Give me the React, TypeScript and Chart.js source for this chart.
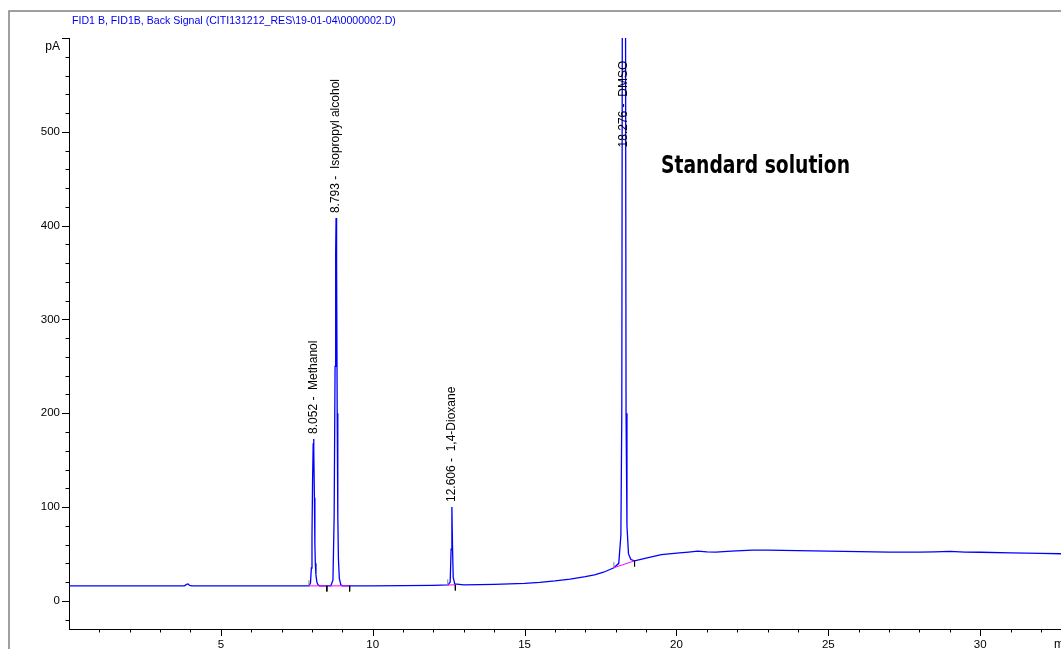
import { useEffect, useRef } from "react";
import { Chart, registerables } from "chart.js";
Chart.register(...registerables);

// ---- data ----
const titleText = "FID1 B, FID1B, Back Signal (CITI131212_RES\\19-01-04\\0000002.D)";
const overlayText = "Standard solution";
const yUnit = "pA";
const xUnit = "min";

const times = [
  0, 3.8, 3.87, 3.92, 3.97, 4.05, 6.0, 7.5, 7.9, 7.95, 7.98, 8.0, 8.02, 8.04, 8.052, 8.065, 8.08, 8.095, 8.11, 8.13, 8.16, 8.2, 8.25,
  8.5, 8.62, 8.69, 8.73, 8.76, 8.78, 8.793, 8.81, 8.83, 8.85, 8.87, 8.9, 8.95, 9.0, 10.0, 11.0, 12.0, 12.48, 12.55, 12.58,
  12.606, 12.625, 12.65, 12.7, 13.0, 13.5, 14.0, 14.5, 15.0, 15.5, 16.0, 16.5, 17.0, 17.3, 17.6, 17.94, 18.1, 18.17,
  18.2, 18.22, 18.276, 18.32, 18.34, 18.37, 18.42, 18.5, 18.62, 19.0, 19.5, 20.1, 20.4, 20.7, 21.0, 21.3, 21.8,
  22.5, 23.0, 24.0, 25.0, 26.0, 27.0, 28.0, 28.5, 29.0, 29.5, 30.0, 31.0, 32.0, 32.66,
];
const signal = [
  16, 16, 17.5, 18, 16.5, 16, 16, 16, 16, 19, 35, 70, 130, 168, 172.6, 160, 110, 60, 40, 28, 20, 17, 16,
  16, 16, 22, 90, 250, 370, 408, 360, 200, 90, 45, 24, 17, 16, 16, 16.3, 16.6, 17, 20, 55,
  100, 60, 25, 18, 17, 17.2, 17.6, 18, 18.7, 19.8, 21.3, 23.2, 25.8, 27.8, 30.5, 35.3, 40, 70,
  200, 700, 2000, 700, 200, 80, 50, 44, 42.7, 45.5, 49.3, 51.1, 52, 53, 52.3, 52, 53,
  54, 54, 53.5, 53, 52.5, 52, 52, 52.3, 52.7, 52, 51.8, 51.2, 50.6, 50.2,
];

// integration baselines (start/end time and signal)
const baseStartT = [7.9, 8.6, 12.47, 17.94];
const baseStartY = [16, 16, 16.9, 35.3];
const baseEndT = [8.49, 9.24, 12.72, 18.62];
const baseEndY = [16, 16, 17.1, 42.7];

// peak labels
const peakTimes = [8.052, 8.793, 12.606, 18.276];
const peakNames = ["Methanol", "Isopropyl alcohol", "1,4-Dioxane", "DMSO"];
const peakLabelY = [172.6, 408, 100, 478];

const yMin = -30;
const yMax = 600;
const xMin = 0;
const xMax = 32.66;

const FONT = "'Liberation Sans', Arial, sans-serif";

export default function App() {
  const ref = useRef<HTMLCanvasElement | null>(null);

  useEffect(() => {
    if (!ref.current) return;

    const trace = times.map((t, i) => ({ x: t, y: signal[i] }));
    const baselines: any[] = [];
    const startMarks: any[] = [];
    const endMarks: any[] = [];
    baseStartT.forEach((t, i) => {
      baselines.push({ x: t, y: baseStartY[i] });
      baselines.push({ x: baseEndT[i], y: baseEndY[i] });
      baselines.push({ x: baseEndT[i], y: null });
      if (i !== 1) {
        startMarks.push({ x: t, y: baseStartY[i] });
        startMarks.push({ x: t, y: baseStartY[i] + 6 });
        startMarks.push({ x: t, y: null });
      }
      endMarks.push({ x: baseEndT[i], y: baseEndY[i] });
      endMarks.push({ x: baseEndT[i], y: baseEndY[i] - 6 });
      endMarks.push({ x: baseEndT[i], y: null });
    });

    const decor = {
      id: "decor",
      beforeDraw(chart: any) {
        const ctx = chart.ctx as CanvasRenderingContext2D;
        ctx.save();
        ctx.fillStyle = "#ffffff";
        ctx.fillRect(0, 0, chart.width, chart.height);
        ctx.strokeStyle = "#808080";
        ctx.lineWidth = 1.5;
        ctx.beginPath();
        ctx.moveTo(9, chart.height);
        ctx.lineTo(9, 11);
        ctx.lineTo(chart.width, 11);
        ctx.stroke();
        ctx.restore();
      },
      afterDraw(chart: any) {
        const ctx = chart.ctx as CanvasRenderingContext2D;
        const xs = chart.scales.x;
        const ys = chart.scales.y;
        const area = chart.chartArea;
        ctx.save();
        // ticks
        ctx.strokeStyle = "#000";
        ctx.lineWidth = 1;
        ctx.beginPath();
        for (const t of xs.ticks) {
          if (t.value <= 0) continue;
          const px = Math.round(xs.getPixelForValue(t.value)) + 0.5;
          const len = Math.abs(t.value % 5) < 1e-6 ? 7 : 3.5;
          ctx.moveTo(px, area.bottom);
          ctx.lineTo(px, area.bottom + len);
        }
        for (const t of ys.ticks) {
          const py = Math.round(ys.getPixelForValue(t.value)) + 0.5;
          const len = Math.abs(t.value % 100) < 1e-6 ? 7 : 3.5;
          ctx.moveTo(area.left, py);
          ctx.lineTo(area.left - len, py);
        }
        ctx.stroke();

        // unit labels
        ctx.fillStyle = "#000";
        ctx.font = `12px ${FONT}`;
        ctx.textAlign = "right";
        ctx.textBaseline = "middle";
        ctx.fillText(yUnit, 60, 47);
        ctx.textAlign = "left";
        ctx.textBaseline = "top";
        ctx.fillText(xUnit, 1054, 639);

        // title
        ctx.fillStyle = "#0000ee";
        ctx.font = `10.6px ${FONT}`;
        ctx.textAlign = "left";
        ctx.textBaseline = "middle";
        ctx.fillText(titleText, 72, 21);

        // peak labels
        ctx.fillStyle = "#000";
        ctx.font = `12px ${FONT}`;
        peakTimes.forEach((rt, i) => {
          const px = xs.getPixelForValue(rt);
          const py = ys.getPixelForValue(peakLabelY[i]) - 5;
          ctx.save();
          ctx.translate(px, py);
          ctx.rotate(-Math.PI / 2);
          ctx.textAlign = "left";
          ctx.textBaseline = "middle";
          ctx.fillText(`${rt.toFixed(3)} -  ${peakNames[i]}`, 0, 0);
          ctx.restore();
        });

        // overlay text
        ctx.font = `bold 25px 'DejaVu Sans Condensed', 'DejaVu Sans', sans-serif`;
        const w = ctx.measureText(overlayText).width;
        const sx = 189 / w;
        ctx.save();
        ctx.translate(661, 173);
        ctx.scale(sx, 1);
        ctx.textAlign = "left";
        ctx.textBaseline = "alphabetic";
        ctx.fillStyle = "#000";
        ctx.fillText(overlayText, 0, 0);
        ctx.restore();

        ctx.restore();
      },
    };

    const chart = new Chart(ref.current, {
      type: "line",
      data: {
        datasets: [
          {
            data: endMarks,
            borderColor: "#000000",
            borderWidth: 1,
            pointRadius: 0,
            spanGaps: false,
            order: 1,
          },
          {
            data: startMarks,
            borderColor: "#808080",
            borderWidth: 1,
            pointRadius: 0,
            spanGaps: false,
            order: 1,
          },
          {
            data: baselines,
            borderColor: "#ff00ff",
            borderWidth: 1,
            pointRadius: 0,
            spanGaps: false,
            order: 2,
          },
          {
            data: trace,
            borderColor: "#0000ff",
            borderWidth: 1.3,
            pointRadius: 0,
            tension: 0,
            order: 3,
          },
        ],
      },
      options: {
        animation: false,
        responsive: false,
        devicePixelRatio: 1,
        parsing: true,
        layout: { padding: { top: 38, left: 0, right: 0, bottom: 0 } },
        plugins: {
          legend: { display: false },
          tooltip: { enabled: false },
          title: { display: false },
        },
        scales: {
          x: {
            type: "linear",
            min: xMin,
            max: xMax,
            afterFit: (s: any) => {
              s.height = 20;
            },
            border: { display: true, color: "#000", width: 1 },
            grid: { display: true, drawOnChartArea: false, drawTicks: false },
            ticks: {
              stepSize: 1,
              includeBounds: false,
              autoSkip: false,
              maxRotation: 0,
              padding: 9,
              color: "#000",
              font: { family: FONT, size: 11.5 },
              callback: (v: any) => (Number(v) > 0 && Number(v) % 5 === 0 ? String(v) : ""),
            },
          },
          y: {
            type: "linear",
            min: yMin,
            max: yMax,
            afterFit: (s: any) => {
              s.width = 69;
            },
            border: { display: true, color: "#000", width: 1 },
            grid: { display: true, drawOnChartArea: false, drawTicks: false },
            ticks: {
              stepSize: 20,
              includeBounds: false,
              autoSkip: false,
              padding: 9,
              color: "#000",
              font: { family: FONT, size: 11.5 },
              callback: (v: any) => {
                const n = Number(v);
                return n >= 0 && n <= 500 && n % 100 === 0 ? String(n) : "";
              },
            },
          },
        },
      },
      plugins: [decor],
    });

    return () => chart.destroy();
  }, []);

  return (
    <div style={{ position: "fixed", left: 0, top: 0, width: 1061, height: 649 }}>
      <canvas ref={ref} width={1061} height={649} style={{ display: "block", width: 1061, height: 649 }} />
    </div>
  );
}
